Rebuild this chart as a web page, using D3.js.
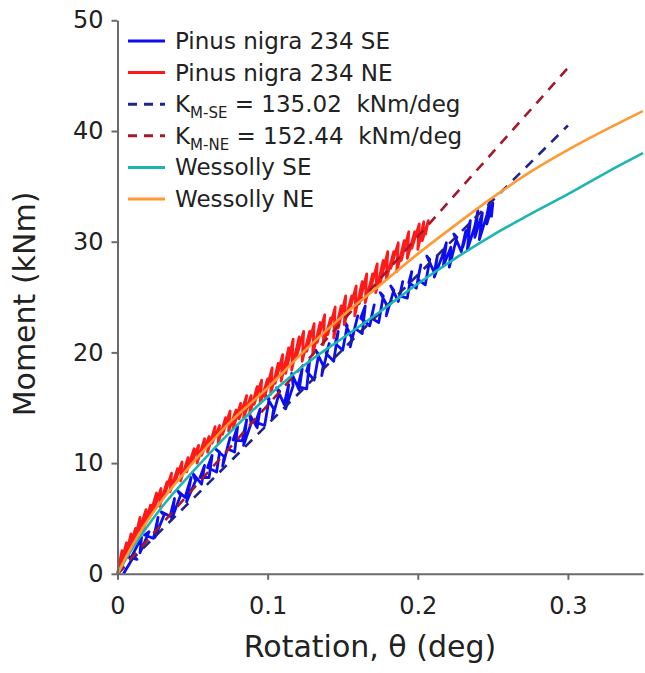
<!DOCTYPE html>
<html>
<head>
<meta charset="utf-8">
<script src="https://cdn.jsdelivr.net/npm/d3@7"></script>
<style>
    body { margin: 0; background: #fff; }
    text { font-family: 'DejaVu Sans', sans-serif; fill: #222; }
    .axis path, .axis line { stroke: #6a6a6a; stroke-width: 2; }
    .axis text { font-size: 24px; fill: #222; font-family: 'DejaVu Sans', sans-serif; }
</style>
</head>
<body>
<svg width="645" height="673"></svg>
<script>
// measured loading curves (rotation in deg, moment in kNm)
const seRotation = [0.004,0.011,0.007,0.013,0.010,0.016,0.015,0.021,0.018,0.024,0.027,0.025,0.031,0.029,0.035,0.038,0.036,0.042,0.040,0.045,0.049,0.046,0.052,0.050,0.056,0.058,0.055,0.061,0.063,0.060,0.066,0.068,0.065,0.071,0.070,0.075,0.073,0.078,0.080,0.077,0.083,0.086,0.084,0.089,0.088,0.093,0.095,0.092,0.098,0.101,0.099,0.104,0.103,0.108,0.106,0.111,0.114,0.112,0.117,0.116,0.121,0.123,0.120,0.126,0.128,0.126,0.131,0.134,0.132,0.137,0.136,0.141,0.139,0.144,0.147,0.145,0.150,0.153,0.151,0.156,0.155,0.160,0.158,0.163,0.165,0.162,0.168,0.171,0.169,0.174,0.177,0.175,0.180,0.179,0.184,0.182,0.187,0.190,0.188,0.193,0.196,0.194,0.199,0.202,0.200,0.205,0.208,0.206,0.211,0.213,0.211,0.216,0.219,0.217,0.222,0.221,0.226,0.224,0.229,0.232,0.230,0.235,0.233,0.238,0.240,0.238,0.243,0.241,0.246,0.248,0.246,0.250,0.249];
const seMoment = [0.0,1.6,1.5,1.3,1.7,3.3,1.9,3.8,3.5,3.2,5.1,3.3,5.3,5.6,5.2,6.8,4.9,7.1,7.5,6.9,8.7,6.5,8.4,9.1,8.1,9.8,8.7,8.7,10.7,9.6,9.2,11.0,11.3,10.6,9.7,12.3,11.3,11.0,13.3,12.1,12.0,13.9,11.6,13.6,14.4,13.2,14.9,13.7,13.4,15.8,16.1,14.9,14.0,16.5,16.8,15.3,17.1,14.9,17.0,18.1,16.6,18.5,16.9,16.7,19.3,18.3,17.5,19.8,20.2,18.8,17.9,20.8,19.9,19.2,21.9,20.8,20.2,22.4,22.8,21.3,20.5,23.3,22.2,21.7,24.2,23.1,22.4,24.3,23.1,22.7,25.1,25.4,24.1,23.3,25.6,26.0,24.6,26.4,25.1,24.9,27.3,26.3,25.8,27.9,26.6,26.1,28.4,28.7,27.2,28.7,26.8,28.6,29.9,27.8,29.5,27.7,30.4,30.7,29.1,31.0,29.5,31.9,29.3,31.4,32.8,30.4,32.6,30.2,32.4,33.7,31.6,33.5,32.2];
const neRotation = [0.000,0.003,0.002,0.006,0.005,0.009,0.008,0.012,0.011,0.015,0.014,0.019,0.017,0.022,0.021,0.026,0.024,0.029,0.028,0.033,0.031,0.036,0.035,0.040,0.038,0.043,0.042,0.047,0.046,0.051,0.049,0.054,0.053,0.058,0.056,0.061,0.060,0.065,0.063,0.068,0.067,0.072,0.070,0.075,0.074,0.079,0.077,0.082,0.081,0.086,0.084,0.089,0.088,0.093,0.091,0.096,0.095,0.100,0.098,0.103,0.102,0.107,0.105,0.110,0.109,0.114,0.112,0.117,0.116,0.121,0.119,0.124,0.123,0.128,0.126,0.131,0.130,0.135,0.133,0.138,0.137,0.142,0.140,0.145,0.144,0.149,0.147,0.152,0.151,0.156,0.154,0.159,0.158,0.163,0.161,0.166,0.165,0.170,0.168,0.173,0.172,0.177,0.175,0.180,0.179,0.184,0.182,0.187,0.186,0.191,0.189,0.194,0.193,0.198,0.196,0.201,0.200,0.204,0.203,0.207,0.205];
const neMoment = [0.0,2.1,0.8,2.8,1.3,3.6,2.2,4.1,2.7,5.1,3.7,5.8,3.9,6.2,5.0,7.3,5.7,7.7,6.1,8.3,7.0,9.1,7.4,9.5,8.2,10.1,8.4,10.5,9.2,11.3,9.9,11.6,10.0,12.2,10.7,12.4,11.0,13.3,11.8,13.4,11.8,14.1,12.6,14.7,12.9,14.8,13.1,15.4,14.0,16.1,14.1,16.1,14.4,16.9,15.3,17.5,15.4,17.6,16.0,18.6,16.2,19.0,17.2,19.8,17.4,20.4,18.1,21.2,18.4,21.4,19.5,21.9,19.2,21.9,20.1,22.6,19.8,22.7,20.9,23.4,20.7,23.1,21.6,24.1,21.3,24.2,22.2,25.1,22.5,25.1,23.5,26.0,23.3,26.4,24.4,27.1,24.5,27.1,25.5,28.0,25.4,28.3,26.3,29.1,26.6,29.1,27.6,29.9,27.3,30.1,28.3,30.9,28.5,30.9,29.4,31.6,29.3,31.8,30.1,31.9,30.6];

// linear stiffness fits (K = 135.02 and 152.44 kNm/deg)
const kRotation = [0, 0.3];
const kSEMoment = [0, 40.5];
const kNEMoment = [0, 45.7];

// Wessolly curves
const wessollyRotation = [0, 0.01, 0.02, 0.03, 0.05, 0.075, 0.1, 0.125, 0.15, 0.175, 0.2, 0.225, 0.25, 0.275, 0.3, 0.325, 0.35];
const wessollySE = [0, 2.3, 4.3, 6.1, 9.2, 12.8, 16.0, 18.9, 21.3, 23.7, 26.2, 28.5, 30.6, 32.5, 34.3, 36.2, 38.0];
const wessollyNE = [0, 2.6, 4.8, 6.7, 10.0, 13.7, 16.8, 20.2, 23.3, 26.1, 28.9, 31.5, 34.0, 36.3, 38.3, 40.1, 41.8];

const xTicks = [0, 0.1, 0.2, 0.3];
const xTickLabels = ['0', '0.1', '0.2', '0.3'];
const yTicks = [0, 10, 20, 30, 40, 50];

const svg = d3.select('svg');

const plotLeft = 117.5;
const plotRight = 643;
const plotTop = 20.3;
const plotBottom = 573.8;

const xScale = d3.scaleLinear()
    .domain([0, 0.35])
    .range([plotLeft, plotRight]);

const yScale = d3.scaleLinear()
    .domain([0, 50])
    .range([plotBottom, plotTop]);

const line = d3.line()
    .x((d) => xScale(d[0]))
    .y((d) => yScale(d[1]));

const zip = (xs, ys) => xs.map((x, i) => [x, ys[i]]);

const series = [
    { name: 'seData', pts: zip(seRotation, seMoment), color: '#0d0df2', width: 2.8, dash: null },
    { name: 'neData', pts: zip(neRotation, neMoment), color: '#ff1a1a', width: 2.8, dash: null },
    { name: 'kSE', pts: zip(kRotation, kSEMoment), color: '#22228f', width: 2.6, dash: '10,8' },
    { name: 'kNE', pts: zip(kRotation, kNEMoment), color: '#a3182b', width: 2.6, dash: '10,8' },
    { name: 'wSE', pts: zip(wessollyRotation, wessollySE), color: '#1cb5b0', width: 2.6, dash: null },
    { name: 'wNE', pts: zip(wessollyRotation, wessollyNE), color: '#ff9a33', width: 2.6, dash: null }
];

const plot = svg.append('g');

plot.selectAll('path')
    .data(series)
    .enter()
    .append('path')
    .attr('d', (s) => s.name.startsWith('w') ? line.curve(d3.curveMonotoneX)(s.pts) : line.curve(d3.curveLinear)(s.pts))
    .attr('fill', 'none')
    .attr('stroke', (s) => s.color)
    .attr('stroke-width', (s) => s.width)
    .attr('stroke-linejoin', 'round')
    .attr('stroke-dasharray', (s) => s.dash);

// axes
svg.append('g')
    .attr('class', 'axis')
    .attr('transform', `translate(0, ${plotBottom})`)
    .call(d3.axisBottom(xScale)
        .tickValues(xTicks)
        .tickFormat((d, i) => xTickLabels[i])
        .tickSizeInner(6)
        .tickSizeOuter(0)
        .tickPadding(17));

svg.append('g')
    .attr('class', 'axis')
    .attr('transform', `translate(${plotLeft}, 0)`)
    .call(d3.axisLeft(yScale)
        .tickValues(yTicks)
        .tickSizeInner(6)
        .tickSizeOuter(0)
        .tickPadding(8));

// axis labels
svg.append('text')
    .attr('x', 370)
    .attr('y', 657)
    .attr('text-anchor', 'middle')
    .style('font-size', '30px')
    .text('Rotation, θ (deg)');

svg.append('text')
    .attr('transform', 'translate(35, 304) rotate(-90)')
    .attr('text-anchor', 'middle')
    .style('font-size', '30px')
    .text('Moment (kNm)');

// legend
const legendItems = [
    { main: 'Pinus nigra 234 SE', sub: null, rest: null },
    { main: 'Pinus nigra 234 NE', sub: null, rest: null },
    { main: 'K', sub: 'M-SE', rest: ' = 135.02  kNm/deg' },
    { main: 'K', sub: 'M-NE', rest: ' = 152.44  kNm/deg' },
    { main: 'Wessolly SE', sub: null, rest: null },
    { main: 'Wessolly NE', sub: null, rest: null }
];

const legend = svg.append('g')
    .attr('transform', 'translate(128, 41)');

const rows = legend.selectAll('g')
    .data(legendItems)
    .enter()
    .append('g')
    .attr('transform', (d, i) => `translate(0, ${i * 31.6})`);

rows.append('line')
    .attr('x1', 0)
    .attr('x2', 37)
    .attr('stroke', (d, i) => series[i].color)
    .attr('stroke-width', 3)
    .attr('stroke-dasharray', (d, i) => series[i].dash ? '9,7' : null);

const labels = rows.append('text')
    .attr('x', 47)
    .attr('y', 8)
    .style('font-size', '23px')
    .style('white-space', 'pre');

labels.append('tspan').text((d) => d.main);
labels.filter((d) => d.sub)
    .append('tspan')
    .attr('dy', 6)
    .style('font-size', '15px')
    .text((d) => d.sub);
labels.filter((d) => d.rest)
    .append('tspan')
    .attr('dy', -6)
    .text((d) => d.rest);
</script>
</body>
</html>
